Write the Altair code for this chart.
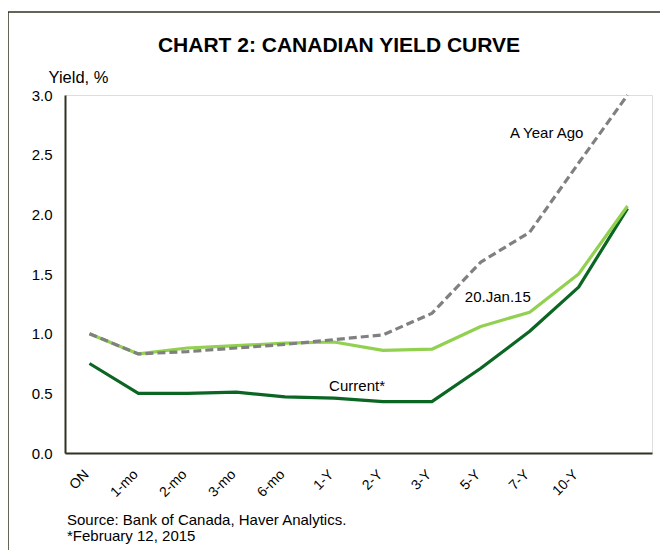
import altair as alt
import pandas as pd

categories = ["ON", "1-mo", "2-mo", "3-mo", "6-mo", "1-Y", "2-Y", "3-Y", "5-Y", "7-Y", "10-Y", " "]
current = [0.75, 0.50, 0.50, 0.51, 0.47, 0.46, 0.43, 0.43, 0.71, 1.02, 1.39, 2.05]
jan20 = [1.00, 0.83, 0.88, 0.90, 0.92, 0.93, 0.86, 0.87, 1.06, 1.18, 1.50, 2.07]
year_ago = [1.00, 0.83, 0.85, 0.88, 0.91, 0.95, 0.99, 1.17, 1.60, 1.85, 2.43, 3.00]
series_names = ["Current*", "20.Jan.15", "A Year Ago"]
series_colors = ["#0b6623", "#92d050", "#808080"]
y_ticks = [0.0, 0.5, 1.0, 1.5, 2.0, 2.5, 3.0]
title_text = ["CHART 2: CANADIAN YIELD CURVE"]
source_lines = ["Source: Bank of Canada, Haver Analytics.", "*February 12, 2015"]

FONT = "Liberation Sans"
AXIS_COLOR = "#2e3322"

rows = []
for name, vals in zip(series_names, [current, jan20, year_ago]):
    for c, v in zip(categories, vals):
        rows.append({"series": name, "tenor": c, "yield": v})
df = pd.DataFrame(rows)
one = pd.DataFrame({"k": [0]})

W, H = 587, 358

x_scale = alt.Scale(domain=categories, type="point", padding=0.5)
x_enc = alt.X(
    "tenor:N",
    sort=categories,
    scale=x_scale,
    axis=alt.Axis(
        title=None, labelAngle=-45, labelFontSize=14, labelFont=FONT, labelColor="#000000",
        ticks=False, tickSize=0, labelPadding=14, labelOffset=-8,
        domainColor=AXIS_COLOR, domainWidth=2, grid=False,
    ),
)
y_enc = alt.Y(
    "yield:Q",
    scale=alt.Scale(domain=[0, 3], nice=False),
    axis=alt.Axis(
        values=y_ticks, format=".1f", grid=False, ticks=False, tickSize=0, labelPadding=13,
        labelFontSize=15, labelFont=FONT, labelColor="#000000",
        domainColor=AXIS_COLOR, domainWidth=2,
        title="Yield, %", titleAngle=0, titleX=-17, titleY=-13, titleAlign="left",
        titleBaseline="alphabetic", titleFont=FONT, titleFontSize=16.5, titleFontWeight="normal",
        titleColor="#000000",
    ),
)

def line_layer(name, color, dash=None):
    kw = dict(strokeWidth=3.2, color=color, strokeCap="butt", strokeJoin="round")
    if dash:
        kw["strokeDash"] = dash
    return alt.Chart(df).transform_filter(alt.datum.series == name).mark_line(**kw).encode(
        x=x_enc, y=y_enc
    )

lines = [
    line_layer("Current*", series_colors[0]),
    line_layer("20.Jan.15", series_colors[1]),
    line_layer("A Year Ago", series_colors[2], [8, 4]),
]

ann = pd.DataFrame({
    "label": ["A Year Ago", "20.Jan.15", "Current*"],
    "tenor": ["7-Y", "5-Y", "1-Y"],
    "yield": [2.68, 1.31, 0.56],
    "dx": [17, 17, 23],
})
ann_layers = [
    alt.Chart(ann.iloc[[i]]).mark_text(
        font=FONT, fontSize=15, color="#000000", baseline="middle", align="center", dx=int(ann["dx"][i])
    ).encode(x=alt.X("tenor:N", sort=categories, scale=x_scale),
             y=alt.Y("yield:Q"), text="label:N")
    for i in range(len(ann))
]

title = alt.Chart(pd.DataFrame({"t": title_text})).mark_text(
    font=FONT, fontSize=21, fontWeight="bold",
    color="#000000", align="center", baseline="alphabetic"
).encode(text="t:N", x=alt.value(274), y=alt.value(-43))

src1 = alt.Chart(pd.DataFrame({"t": source_lines[:1]})).mark_text(
    font=FONT, fontSize=15, color="#000000", align="left", baseline="alphabetic"
).encode(text="t:N", x=alt.value(2), y=alt.value(430))
src2 = alt.Chart(pd.DataFrame({"t": source_lines[1:]})).mark_text(
    font=FONT, fontSize=15, color="#000000", align="left", baseline="alphabetic"
).encode(text="t:N", x=alt.value(2), y=alt.value(446))

frame_left = alt.Chart(one).mark_rule(color=AXIS_COLOR, strokeWidth=1.5).encode(
    x=alt.value(-57), y=alt.value(-83), y2=alt.value(460)
)
frame_top = alt.Chart(one).mark_rule(color=AXIS_COLOR, strokeWidth=1.5).encode(
    x=alt.value(-57.75), x2=alt.value(600), y=alt.value(-83)
)

chart = alt.layer(*lines, *ann_layers, title, src1, src2, frame_left, frame_top).properties(
    width=W, height=H,
    autosize=alt.AutoSizeParams(type="none"),
    padding={"left": 57, "top": 87, "right": 8, "bottom": 97},
).configure_view(stroke=None).configure(background="#ffffff")

chart.save("out.html", embed_options={"renderer": "svg", "actions": False})
